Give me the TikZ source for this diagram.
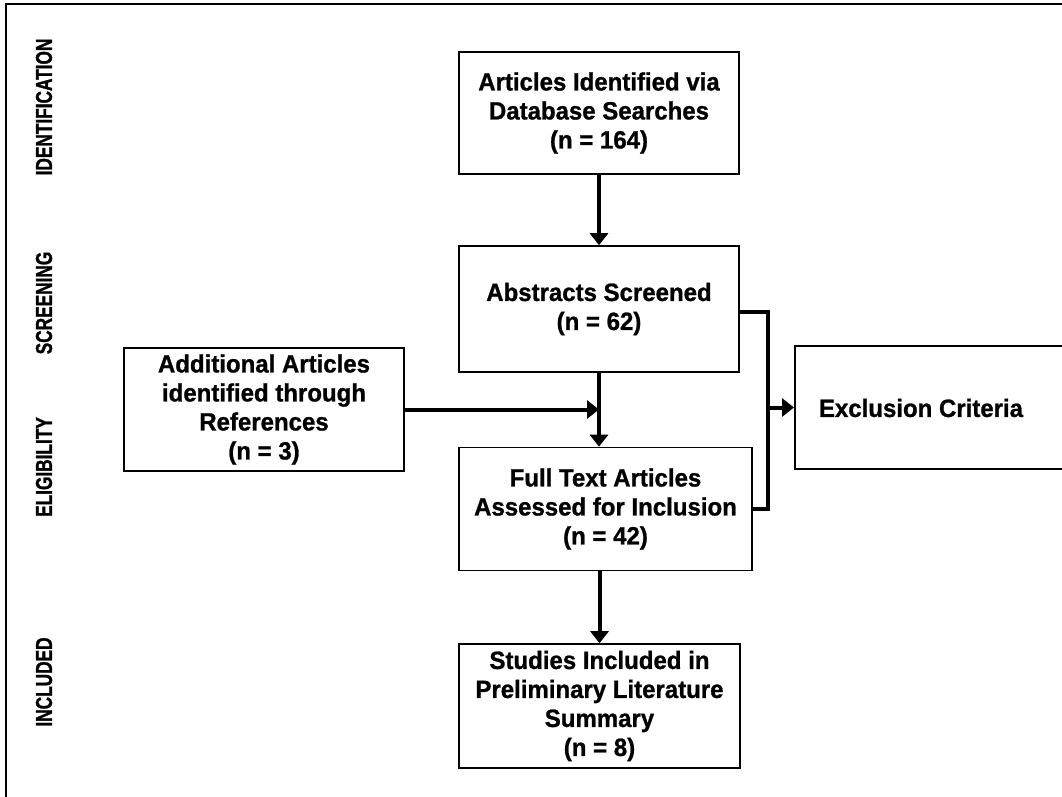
\documentclass[tikz,border=0pt]{standalone}
\usepackage{fontspec}
\setmainfont{Liberation Sans}
\newfontfamily\narrowsans{Liberation Sans Bold}[FakeStretch=0.75,FakeBold=1.2]
\newfontfamily\boxsans{Liberation Sans Bold}[FakeStretch=0.96,FakeBold=1.0]
\usetikzlibrary{arrows.meta}
\begin{document}
\begin{tikzpicture}[x=1pt,y=-1pt,
  txt/.style={inner sep=0pt,align=center,font=\fontsize{25}{29}\selectfont\boxsans},
  box/.style={txt,draw,line width=1.6pt},
  conn/.style={line width=4pt},
  arr/.style={conn,-{Triangle[width=18pt,length=12pt]}},
  phase/.style={rotate=90,inner sep=0pt,font=\fontsize{23}{27}\selectfont\narrowsans}]
\useasboundingbox (0,0) rectangle (1062,797);
\draw[line width=2pt] (6,797) -- (6,4) -- (1062,4);

\node[phase] (p1) at (44,107) {IDENTIFICATION};
\node[phase] (p2) at (44,303) {SCREENING};
\node[phase] (p3) at (44,467) {ELIGIBILITY};
\node[phase] (p4) at (44,682) {INCLUDED};

\node[box,minimum width=280,minimum height=122] (A) at (599,113)
  {Articles Identified via\\Database Searches\\(n = 164)};
\node[box,minimum width=280,minimum height=126] (B) at (599,309)
  {Abstracts Screened\\(n = 62)};
\node[box,minimum width=293,minimum height=123] (C) at (605.5,509)
  {Full Text Articles\\Assessed for Inclusion\\(n = 42)};
\node[box,minimum width=281,minimum height=124] (D) at (599.5,706)
  {Studies Included in\\Preliminary Literature\\Summary\\(n = 8)};
\node[box,minimum width=280,minimum height=123] (L) at (264,409.5)
  {Additional Articles\\identified through\\References\\(n = 3)};
\node[draw,line width=1.6pt,inner sep=0pt,minimum width=272,minimum height=123,anchor=west] (excl) at (794,407.5) {};
\node[txt] (excltxt) at (921,408) {Exclusion Criteria};

\coordinate (bx) at ([xshift=28pt]B.east);

\draw[arr] (A.south) -- (B.north);
\draw[arr] (B.south) -- (B.south |- C.north);
\draw[arr] (L.east) -- (L.east -| B.south);
\draw[arr] (D.north |- C.south) -- (D.north);
\draw[conn] ([yshift=-3pt]B.east) -- ([yshift=-3pt]bx) |- (C.east);
\draw[arr] (bx |- excl.west) -- (excl.west);
\end{tikzpicture}
\end{document}
